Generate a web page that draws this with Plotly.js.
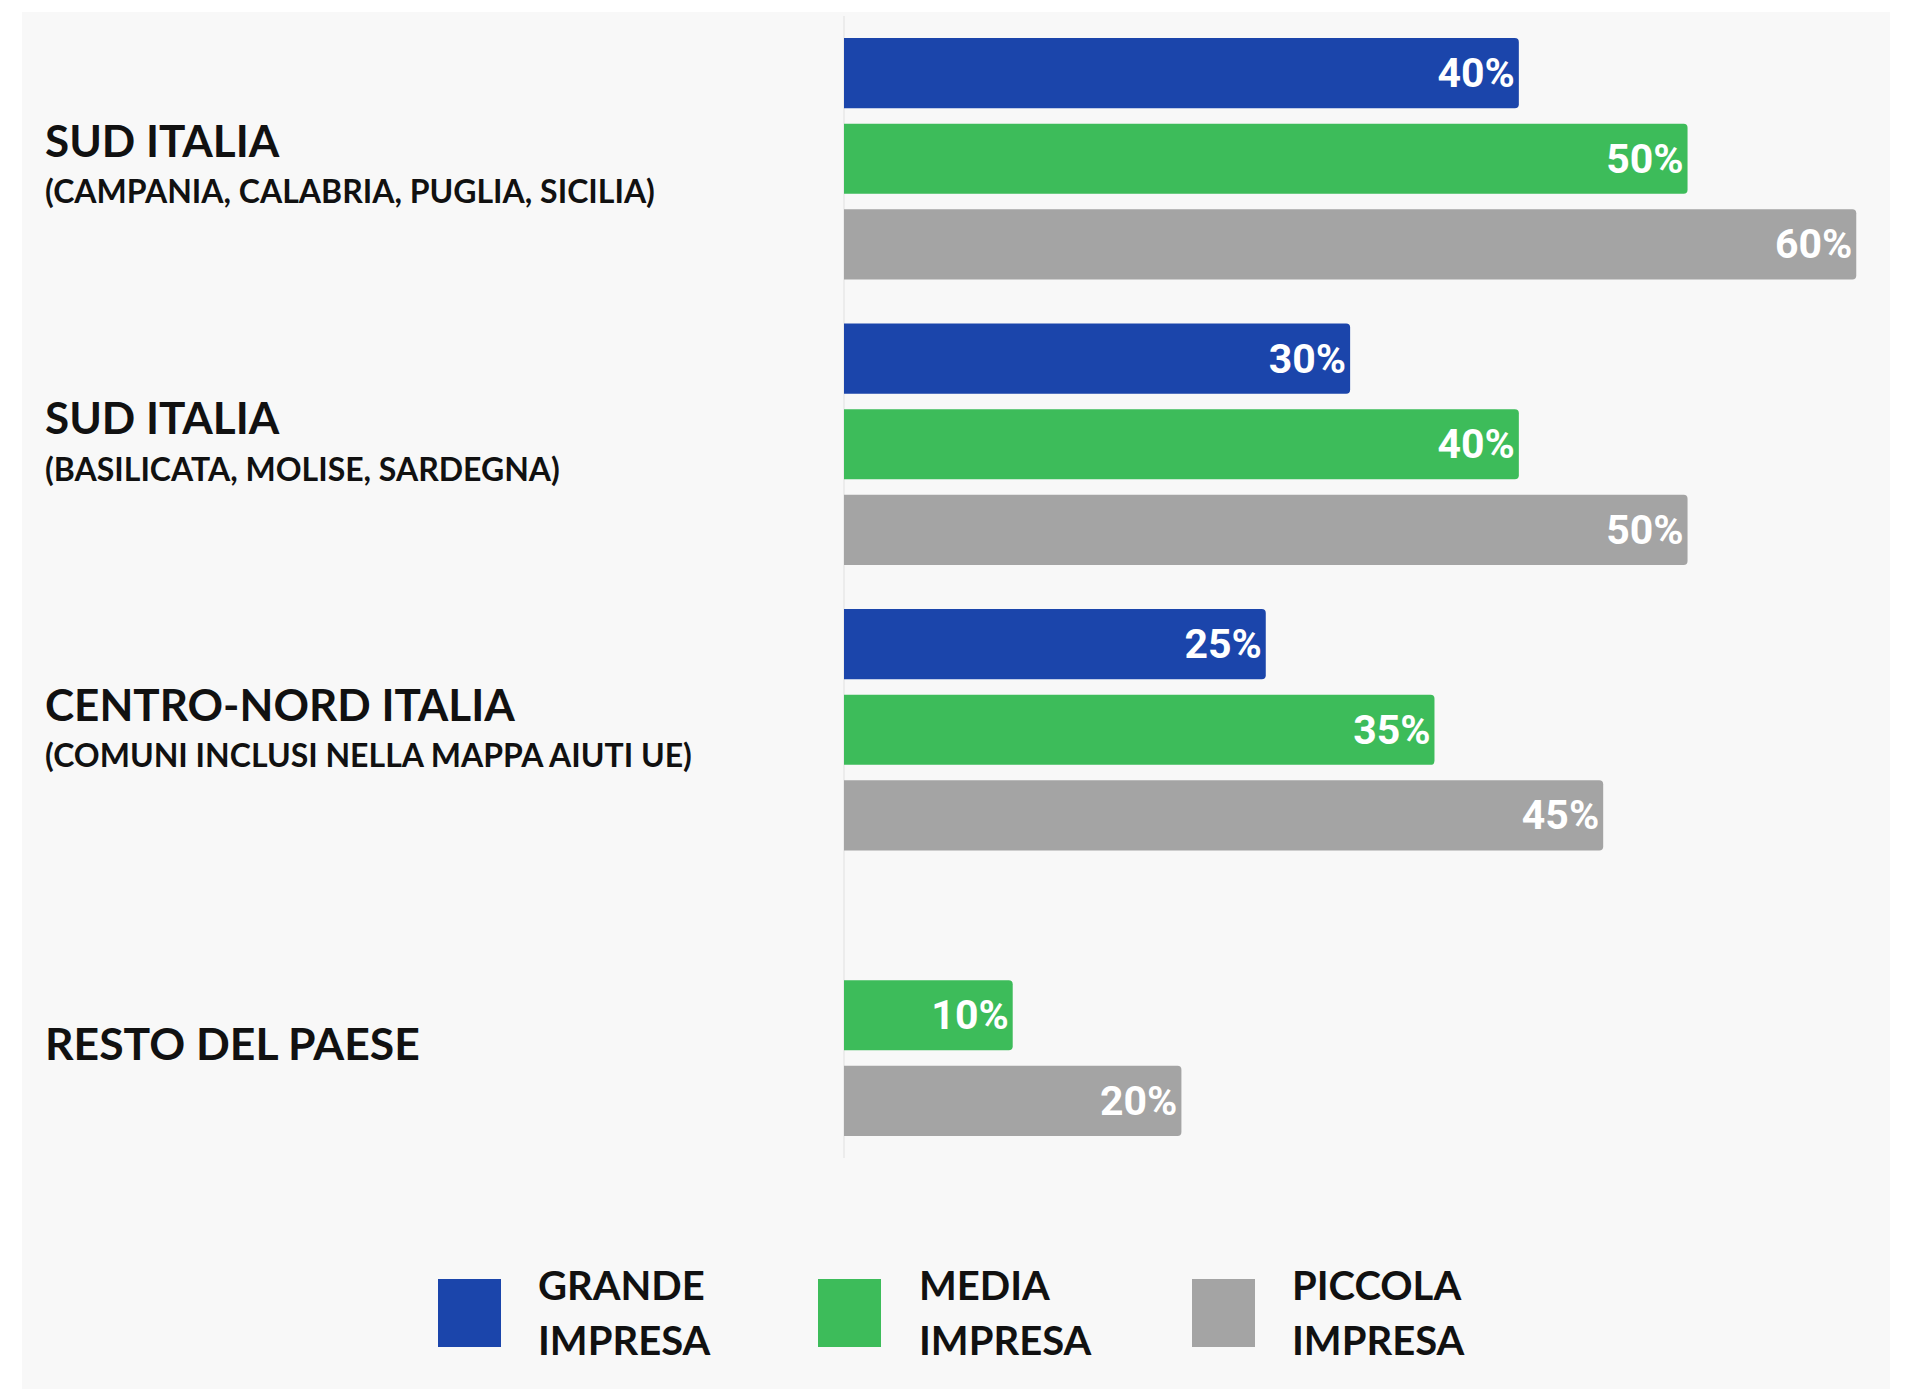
<!DOCTYPE html>
<html>
<head>
<meta charset="utf-8">
<script src="https://cdn.plot.ly/plotly-3.0.1.min.js"></script>
<style>
  html, body { margin: 0; padding: 0; background: #ffffff; }
  #chart { width: 1906px; height: 1389px; }
</style>
</head>
<body>
<div id="chart"></div>
<script>
// ---------------- DATA ----------------
const categories = [
  "SUD ITALIA (CAMPANIA, CALABRIA, PUGLIA, SICILIA)",
  "SUD ITALIA (BASILICATA, MOLISE, SARDEGNA)",
  "CENTRO-NORD ITALIA (COMUNI INCLUSI NELLA MAPPA AIUTI UE)",
  "RESTO DEL PAESE"
];
const regionTitles = ["SUD ITALIA", "SUD ITALIA", "CENTRO-NORD ITALIA", "RESTO DEL PAESE"];
const regionSubtitles = [
  "(CAMPANIA, CALABRIA, PUGLIA, SICILIA)",
  "(BASILICATA, MOLISE, SARDEGNA)",
  "(COMUNI INCLUSI NELLA MAPPA AIUTI UE)",
  ""
];
const grandeImpresa  = [40, 30, 25, null];
const mediaImpresa   = [50, 40, 35, 10];
const piccolaImpresa = [60, 50, 45, 20];
const seriesLine1 = ["GRANDE", "MEDIA", "PICCOLA"];
const seriesLine2 = ["IMPRESA", "IMPRESA", "IMPRESA"];

// ---------------- STYLE / LAYOUT ----------------
const colors = ["#1b45ab", "#3dbc5a", "#a4a4a4"];
const labelFont = "Lato, 'Open Sans', 'Liberation Sans', sans-serif";
const numFont = "Roboto, Lato, 'Liberation Sans', sans-serif";

const M = { l: 844, r: 16, t: 16, b: 231 };
const W = 1906 - M.l - M.r;
const H = 1389 - M.t - M.b;
const px = x => (x - M.l) / W;          // page px -> paper x
const py = y => 1 - (y - M.t) / H;      // page px -> paper y

const seriesValues = [grandeImpresa, mediaImpresa, piccolaImpresa];
const traces = seriesValues.map((vals, i) => ({
  type: "bar",
  orientation: "h",
  y: categories,
  x: vals,
  name: seriesLine1[i] + " " + seriesLine2[i],
  marker: { color: colors[i], cornerradius: 4, line: { width: 0 } },
  texttemplate: "%{x}%",
  textposition: "inside",
  insidetextanchor: "end",
  textfont: { family: numFont, size: 41, color: "#ffffff", weight: "bold" },
  hoverinfo: "skip",
  showlegend: false
}));

// category label offsets (px, relative to category centre; + = down)
const titleOffset = [-19, -27, -26, 27];
const subOffset = [32, 24, 25, 0];
const titleSize = [44, 44, 44, 44.5];

const annotations = [];
categories.forEach((c, i) => {
  annotations.push({
    xref: "paper", yref: "y", x: px(43), y: c, xanchor: "left", yanchor: "middle",
    yshift: -titleOffset[i], showarrow: false,
    text: regionTitles[i],
    font: { family: labelFont, size: titleSize[i], color: "#111111", weight: "bold" }
  });
  if (regionSubtitles[i]) {
    annotations.push({
      xref: "paper", yref: "y", x: px(43), y: c, xanchor: "left", yanchor: "middle",
      yshift: -subOffset[i], showarrow: false,
      text: regionSubtitles[i],
      font: { family: labelFont, size: 32, color: "#111111", weight: "bold" }
    });
  }
});

// custom legend
const legendSwatchX = [438, 818, 1192];
const legendTextX = [536, 917, 1290];
const shapes = [{
  type: "rect", xref: "paper", yref: "paper", layer: "below",
  x0: px(22), x1: px(1890), y0: py(1389), y1: py(12),
  fillcolor: "#f8f8f8", line: { width: 0 }
}];
seriesLine1.forEach((name, i) => {
  shapes.push({
    type: "rect", xref: "paper", yref: "paper",
    x0: px(legendSwatchX[i]), x1: px(legendSwatchX[i] + 63),
    y0: py(1347), y1: py(1279),
    fillcolor: colors[i], line: { width: 0 }
  });
  annotations.push({
    xref: "paper", yref: "paper", x: px(legendTextX[i]), y: py(1285),
    xanchor: "left", yanchor: "middle", showarrow: false, text: name,
    font: { family: labelFont, size: 40, color: "#111111", weight: "bold" }
  });
  annotations.push({
    xref: "paper", yref: "paper", x: px(legendTextX[i]), y: py(1339.5),
    xanchor: "left", yanchor: "middle", showarrow: false, text: seriesLine2[i],
    font: { family: labelFont, size: 40, color: "#111111", weight: "bold" }
  });
});

const layout = {
  width: 1906, height: 1389,
  margin: M,
  paper_bgcolor: "#ffffff",
  plot_bgcolor: "rgba(0,0,0,0)",
  barmode: "group",
  bargap: 0.1,
  bargroupgap: 0.18,
  showlegend: false,
  xaxis: {
    range: [0, 62], showgrid: false, showticklabels: false, ticks: "",
    zeroline: true, zerolinecolor: "#ececec", zerolinewidth: 2, showline: false, fixedrange: true
  },
  yaxis: {
    type: "category", categoryorder: "array", categoryarray: categories,
    autorange: "reversed", showgrid: false, showticklabels: false, ticks: "",
    zeroline: false, showline: false, fixedrange: true
  },
  shapes: shapes,
  annotations: annotations,
  font: { family: labelFont }
};

Plotly.newPlot("chart", traces, layout, { displayModeBar: false, staticPlot: true });
</script>
</body>
</html>
